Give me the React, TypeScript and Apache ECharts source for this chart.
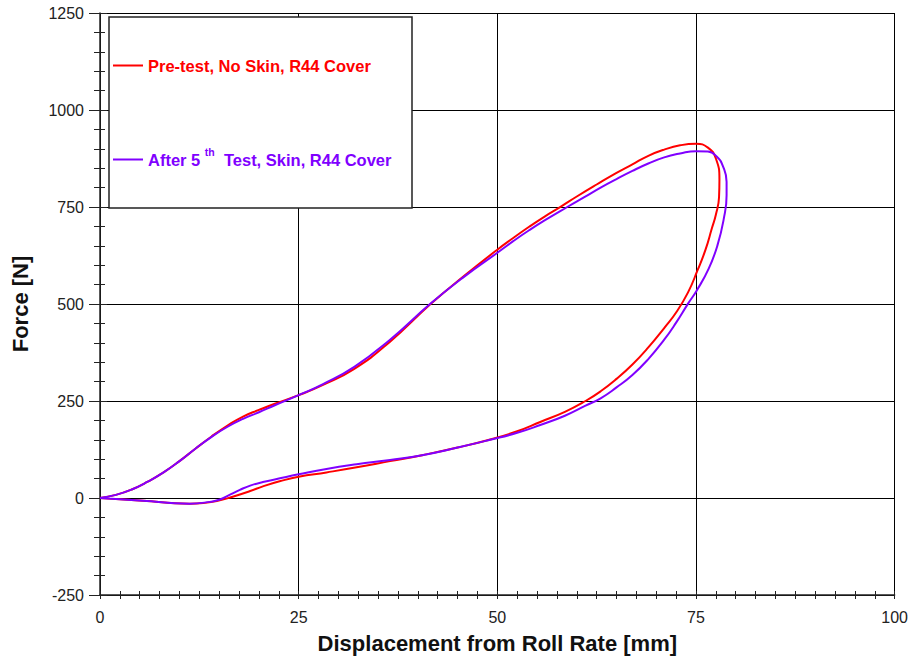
import React, { useEffect, useRef } from "react";
import * as echarts from "echarts";

const seriesNames = ["Pre-test, No Skin, R44 Cover", "After 5th Test, Skin, R44 Cover"];
const seriesColors = ["#ff0000", "#8000ff"];

const xTicks = [0, 25, 50, 75, 100];
const yTicks = [-250, 0, 250, 500, 750, 1000, 1250];

const preTest: [number, number][] = [
  [0, 0], [2, 8], [4, 22], [6, 42], [8, 66], [10, 95], [12, 127], [14, 158], [16, 186],
  [18, 210], [20, 227], [22, 243], [25, 265], [28, 291], [32, 333], [36.5, 403], [41.6, 500],
  [45.8, 572], [50, 640], [52, 670], [54, 699], [56, 726], [58, 751], [60, 777], [62.5, 808],
  [65, 838], [67, 860], [69, 882], [71, 898], [73, 909], [75, 913], [76.5, 903], [77.5, 875],
  [77.95, 820], [77.9, 775], [77.5, 730], [77, 695], [76.2, 640], [75.2, 587], [74, 530],
  [72.5, 478], [71, 438], [69, 388], [67, 344], [65, 307], [63, 275], [61.1, 250], [58.5, 222],
  [55.4, 196], [52.5, 172], [49.1, 151], [45, 130], [40.7, 111], [36.5, 95], [32.3, 79],
  [28.5, 66], [25, 55], [22.6, 43], [20.5, 30], [18.9, 18], [16.8, 4], [14.7, -8],
  [13, -13], [11.3, -14.5], [8.5, -12], [5.9, -8], [3, -4], [0, 0],
];

const afterTest: [number, number][] = [
  [0, 0], [2, 8], [4, 22], [6, 42], [8, 66], [10, 95], [12, 127], [14, 157], [16, 183],
  [18, 204], [20, 221], [22, 239], [25, 265], [28, 293], [32, 338], [36.5, 408], [41.6, 501],
  [45.8, 570], [50, 632], [52, 662], [54, 690], [56, 716], [58.8, 750], [61, 776], [63, 800],
  [65, 822], [67, 843], [69, 862], [71, 878], [73, 888], [75, 894], [76.5, 893], [77.6, 880],
  [78.4, 855], [78.85, 815], [78.85, 780], [78.5, 720], [77.7, 651], [76.6, 591], [75.1, 535],
  [74, 501], [72.5, 452], [71, 408], [69, 358], [67, 317], [65, 285], [63, 257], [61.1, 238],
  [58.5, 212], [55.4, 188], [52.5, 168], [49.1, 150], [45, 130], [40.7, 111], [36.5, 98],
  [32.3, 87], [28.5, 75], [25, 61], [22.5, 50], [20.5, 41], [18.9, 32], [17.6, 21],
  [16.3, 8], [15.1, -4], [13.8, -10], [11.3, -14.5], [8.5, -12], [5.9, -8], [3, -4], [0, 0],
];

const FONT = 'Arial, "Liberation Sans", sans-serif';

export default function App() {
  const ref = useRef<HTMLDivElement>(null);
  useEffect(() => {
    if (!ref.current) return;
    const chart = echarts.init(ref.current, null, { renderer: "svg" });
    const axisColor = "#222";
    const yBase = {
      type: "value" as const,
      min: yTicks[0],
      max: yTicks[yTicks.length - 1],
      interval: 250,
      position: "left" as const,
    };
    const xBase = {
      type: "value" as const,
      min: xTicks[0],
      max: xTicks[xTicks.length - 1],
      interval: 25,
      position: "bottom" as const,
    };
    chart.setOption({
      animation: false,
      textStyle: { fontFamily: FONT },
      grid: { left: 100, right: 16, top: 13, bottom: 61, containLabel: false },
      xAxis: [
        {
          ...xBase,
          name: "Displacement from Roll Rate [mm]",
          nameLocation: "middle",
          nameGap: 37,
          nameTextStyle: { fontSize: 22, fontWeight: "bold", color: "#111", fontFamily: FONT },
          axisLine: { show: true, onZero: false, lineStyle: { color: axisColor, width: 1.5 } },
          axisTick: { show: true, inside: false, length: 4, lineStyle: { color: axisColor } },
          minorTick: { show: true, splitNumber: 10, length: 4, lineStyle: { color: axisColor } },
          axisLabel: { fontSize: 16, color: "#222", margin: 14, fontFamily: FONT },
          splitLine: { show: true, lineStyle: { color: "#000", width: 1 } },
        },
        {
          ...xBase,
          axisLine: { show: false, onZero: false },
          axisTick: { show: true, inside: true, length: 4, lineStyle: { color: axisColor } },
          minorTick: { show: true, splitNumber: 10, length: 4, lineStyle: { color: axisColor } },
          axisLabel: { show: false },
          splitLine: { show: false },
        },
      ],
      yAxis: [
        {
          ...yBase,
          name: "Force [N]",
          nameLocation: "middle",
          nameGap: 69,
          nameTextStyle: { fontSize: 22, fontWeight: "bold", color: "#111", fontFamily: FONT },
          axisLine: { show: true, onZero: false, lineStyle: { color: axisColor, width: 1.5 } },
          axisTick: { show: true, inside: false, length: 11, lineStyle: { color: axisColor } },
          minorTick: { show: true, splitNumber: 5, length: 6, lineStyle: { color: axisColor } },
          axisLabel: {
            fontSize: 16,
            color: "#222",
            margin: 16,
            fontFamily: FONT,
            formatter: (v: number) => String(v),
          },
          splitLine: { show: true, lineStyle: { color: "#000", width: 1 } },
        },
        {
          ...yBase,
          axisLine: { show: false, onZero: false },
          axisTick: { show: true, inside: true, length: 7, lineStyle: { color: axisColor } },
          minorTick: { show: true, splitNumber: 5, length: 5, lineStyle: { color: axisColor } },
          axisLabel: { show: false },
          splitLine: { show: false },
        },
      ],
      graphic: [
        {
          type: "rect",
          z: 3,
          shape: { x: 109, y: 17, width: 303, height: 191 },
          style: { fill: "#fff", stroke: "#222", lineWidth: 1.5 },
        },
      ],
      legend: [
        {
          data: [seriesNames[0]],
          left: 113,
          top: 57,
          padding: 0,
          icon: "rect",
          itemWidth: 30,
          itemHeight: 2,
          selectedMode: false,
          textStyle: {
            fontSize: 16.5,
            fontWeight: "bold",
            color: seriesColors[0],
            fontFamily: FONT,
            lineHeight: 16,
          },
        },
        {
          data: [seriesNames[1]],
          left: 113,
          top: 146,
          padding: 0,
          icon: "rect",
          itemWidth: 30,
          itemHeight: 2,
          selectedMode: false,
          formatter: () => "{a|After 5 }{s|th}{a|  Test, Skin, R44 Cover}",
          textStyle: {
            fontSize: 16.5,
            fontWeight: "bold",
            color: seriesColors[1],
            fontFamily: FONT,
            rich: {
              a: { fontSize: 16.5, fontWeight: "bold", color: seriesColors[1], fontFamily: FONT },
              s: {
                fontSize: 10.5,
                fontWeight: "bold",
                color: seriesColors[1],
                fontFamily: FONT,
                padding: [0, 0, 16, 0],
              },
            },
          },
        },
      ],
      series: [
        {
          name: seriesNames[0],
          type: "line",
          data: preTest,
          xAxisIndex: 0,
          yAxisIndex: 0,
          showSymbol: false,
          symbol: "none",
          smooth: 0.5,
          color: seriesColors[0],
          lineStyle: { width: 2, color: seriesColors[0] },
        },
        {
          name: seriesNames[1],
          type: "line",
          data: afterTest,
          xAxisIndex: 0,
          yAxisIndex: 0,
          showSymbol: false,
          symbol: "none",
          smooth: 0.5,
          color: seriesColors[1],
          lineStyle: { width: 2, color: seriesColors[1] },
        },
      ],
    });
    return () => chart.dispose();
  }, []);
  return (
    <div
      ref={ref}
      style={{ position: "fixed", left: 0, top: 0, width: 911, height: 659, background: "#fff" }}
    />
  );
}
